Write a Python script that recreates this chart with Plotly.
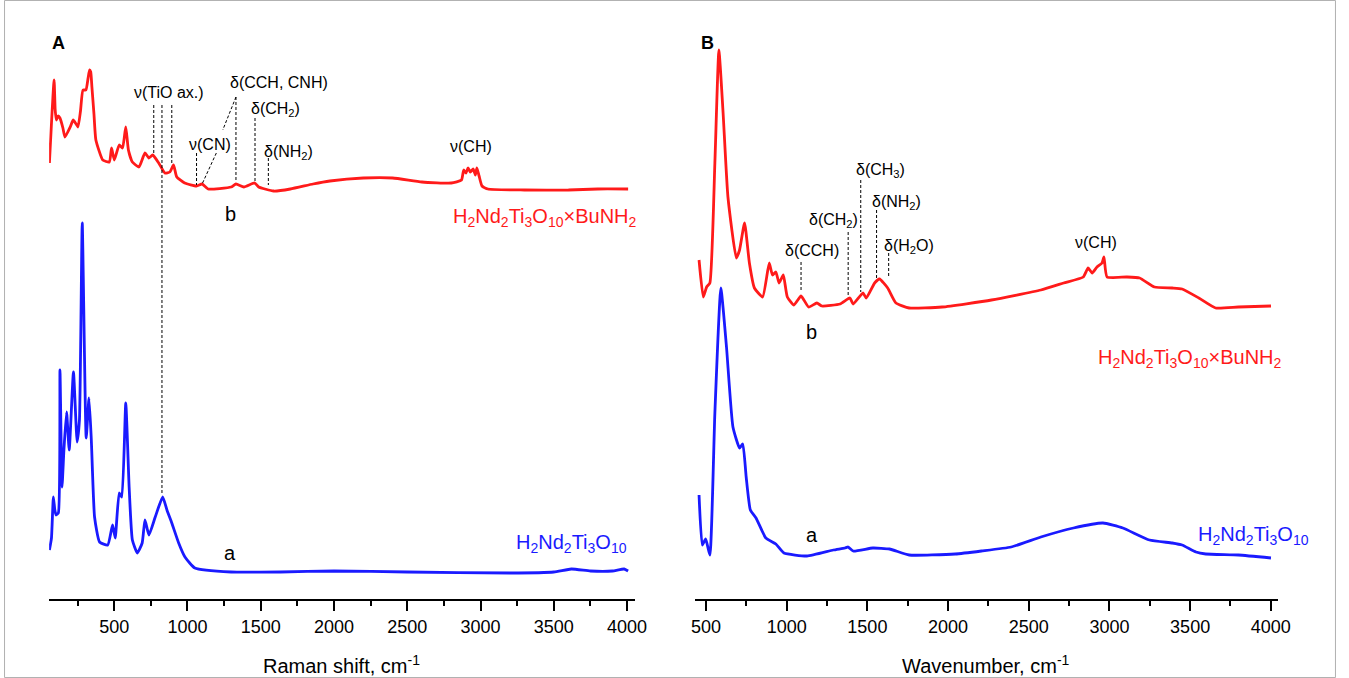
import plotly.graph_objects as go

W, H = 1349, 678

# ---------------- Panel A: Raman ----------------
ramanA_b_x = [58, 90, 97, 105, 118, 130, 150, 164, 200, 220, 240, 253, 270, 287, 307, 322, 332, 340, 348, 362, 375,
              422, 467, 482, 501, 534, 557, 579, 597, 624, 669, 710, 737, 763, 804, 846, 880, 905, 927, 981,
              1062, 1100, 1141, 1298, 1331, 1385, 1459, 1486, 1588, 1702, 1857, 1972, 2200, 2400, 2600,
              2800, 2870, 2885, 2900, 2915, 2930, 2950, 2965, 2975, 2990, 3010, 3050, 3300, 3600, 3800, 4007]
ramanA_b_y = [436, 519, 490, 479, 483, 481, 471, 462, 472, 479, 475, 472, 488, 509, 509, 521, 529, 527, 512, 485, 459,
              439, 437, 451, 439, 454, 451, 472, 449, 437, 432, 446, 441, 444, 436, 426, 427, 434, 422, 416,
              413, 415, 410, 412, 415, 412, 416, 412, 408, 410, 415, 418, 421, 421, 417,
              416, 419, 429, 426, 431, 427, 430, 424, 431, 423, 413, 410, 409, 409, 410, 410]

ramanA_a_x = [58, 72, 85, 95, 103, 119, 130, 144, 157, 175, 193, 222, 247, 263, 282, 309, 328, 344, 366, 400,
              456, 489, 507, 534, 552, 579, 602, 624, 658, 691, 710, 737, 780, 831, 860, 893, 940, 983, 1050,
              1298, 1635, 2000, 2500, 3200, 3500, 3620, 3750, 3900, 3980, 4007]
ramanA_a_y = [49, 61, 102, 89, 84, 86, 229, 112, 149, 187, 149, 227, 157, 179, 376, 161, 201, 159, 82, 57,
              54, 74, 61, 106, 102, 196, 112, 59, 46, 56, 79, 64, 82, 102, 89, 76, 56, 42, 31,
              27, 27, 28, 27, 26, 27, 30, 28, 28, 30, 28]

# ---------------- Panel B: IR ----------------
ir_b_x = [457, 483, 504, 524, 555, 580, 606, 636, 688, 708, 739, 769, 800, 851, 892, 912, 933, 953, 979, 1004,
          1045, 1089, 1136, 1187, 1218, 1331, 1392, 1412, 1473, 1493, 1545, 1575, 1626, 1677, 1759, 1963,
          2269, 2575, 2716, 2838, 2868, 2893, 2923, 2954, 2966, 2985, 3107, 3187, 3279, 3389, 3450, 3554,
          3658, 3799, 4001]
ir_b_y = [339, 302, 312, 316, 436, 549, 486, 402, 341, 349, 376, 336, 311, 302, 336, 324, 327, 316, 324, 302,
          294, 303, 292, 296, 293, 295, 301, 295, 306, 301, 316, 320, 311, 296, 291, 292,
          299, 309, 316, 322, 331, 326, 332, 336, 342, 322, 322, 321, 312, 311, 310, 301,
          291, 292, 293]

ir_a_x = [457, 477, 498, 524, 555, 592, 627, 667, 708, 728, 749, 775, 810, 871, 933, 983, 1126, 1289, 1361,
          1381, 1412, 1534, 1637, 1759, 2044, 2207, 2391, 2575, 2777, 2960, 3083, 3248, 3389, 3450, 3536,
          3597, 3799, 4001]
ir_a_y = [104, 54, 60, 44, 186, 311, 252, 172, 151, 155, 122, 89, 81, 61, 55, 46, 43, 49, 51,
          52, 48, 51, 50, 44, 45, 48, 52, 62, 71, 76, 71, 59, 56, 54, 47,
          45, 44, 41]

x_ticks = [500, 1000, 1500, 2000, 2500, 3000, 3500, 4000]

# band-assignment marker lines: wavenumber, top intensity, bottom intensity
ramanA_marks_x = [770, 826, 893, 1062, 1331, 1461, 1552]
ramanA_marks_top = [494, 494, 494, 446, 502, 481, 441]
ramanA_marks_bot = [444, 104, 434, 414, 417, 416, 414]
ir_marks_x = [1089, 1381, 1459, 1557, 1632]
ir_marks_top = [337, 367, 419, 389, 346]
ir_marks_bot = [309, 302, 307, 321, 321]

RED = "#ff1a1a"
BLUE = "#1a1aff"
FONT = "Liberation Sans, Arial, sans-serif"

fig = go.Figure()
for xs, ys, col, xa, ya in [(ramanA_b_x, ramanA_b_y, RED, "x", "y"), (ramanA_a_x, ramanA_a_y, BLUE, "x", "y"),
                            (ir_b_x, ir_b_y, RED, "x2", "y2"), (ir_a_x, ir_a_y, BLUE, "x2", "y2")]:
    fig.add_trace(go.Scatter(x=xs, y=ys, mode="lines",
                             line=dict(color=col, width=2.8, shape="spline", smoothing=0.45),
                             xaxis=xa, yaxis=ya, showlegend=False))

shapes = []
dash = dict(color="black", width=1, dash="3px,2px")
for xv, t, b in zip(ramanA_marks_x, ramanA_marks_top, ramanA_marks_bot):
    shapes.append(dict(type="line", xref="x", yref="y", x0=xv, x1=xv, y0=t, y1=b, line=dash))
# slanted connector from delta(CCH, CNH) label to the 1100 band (interrupted by nu(CN) label)
shapes.append(dict(type="line", xref="x", yref="y", x0=1331, y0=502, x1=1241, y1=469, line=dash))
shapes.append(dict(type="line", xref="x", yref="y", x0=1197, y0=446, x1=1100, y1=415, line=dash))
for xv, t, b in zip(ir_marks_x, ir_marks_top, ir_marks_bot):
    shapes.append(dict(type="line", xref="x2", yref="y2", x0=xv, x1=xv, y0=t, y1=b, line=dash))
# outer light frame
shapes.append(dict(type="rect", xref="paper", yref="paper", x0=0.0004, x1=0.9996, y0=0.0007, y1=0.9993,
                   line=dict(color="#b0b0b0", width=1)))


def P(x, y):
    return dict(xref="paper", yref="paper", x=x / W, y=1 - y / H)


ann = []


def txt(text, x, y, size=16, color="black", xanchor="center", bold=False):
    d = P(x, y)
    d.update(text=("<b>%s</b>" % text) if bold else text, showarrow=False, xanchor=xanchor, yanchor="middle",
             font=dict(family=FONT, size=size, color=color))
    ann.append(d)


txt("A", 55, 43, size=18, bold=True)
txt("B", 712, 43, size=18, bold=True)
# panel A labels
txt("ν(TiO ax.)", 167, 92)
txt("ν(CN)", 209, 145)
txt("δ(CCH, CNH)", 279, 82)
txt("δ(CH<sub>2</sub>)", 275, 109)
txt("δ(NH<sub>2</sub>)", 288, 152)
txt("ν(CH)", 473, 146)
txt("b", 229, 214, size=20)
txt("a", 229, 553, size=20)
txt("H<sub>2</sub>Nd<sub>2</sub>Ti<sub>3</sub>O<sub>10</sub>×BuNH<sub>2</sub>", 643, 217, size=20, color=RED,
    xanchor="right")
txt("H<sub>2</sub>Nd<sub>2</sub>Ti<sub>3</sub>O<sub>10</sub>", 633, 543, size=20, color=BLUE, xanchor="right")
# panel B labels
txt("δ(CCH)", 818, 250)
txt("δ(CH<sub>2</sub>)", 840, 220)
txt("δ(CH<sub>3</sub>)", 888, 170)
txt("δ(NH<sub>2</sub>)", 904, 202)
txt("δ(H<sub>2</sub>O)", 917, 247)
txt("ν(CH)", 1106, 242)
txt("b", 818, 332, size=20)
txt("a", 818, 535, size=20)
txt("H<sub>2</sub>Nd<sub>2</sub>Ti<sub>3</sub>O<sub>10</sub>×BuNH<sub>2</sub>", 1296, 358, size=20, color=RED,
    xanchor="right")
txt("H<sub>2</sub>Nd<sub>2</sub>Ti<sub>3</sub>O<sub>10</sub>", 1324, 535, size=20, color=BLUE, xanchor="right")
# axis titles
txt("Raman shift, cm<sup>-1</sup>", 342, 664, size=20)
txt("Wavenumber, cm<sup>-1</sup>", 995, 664, size=20)

axis_common = dict(showline=True, linecolor="black", linewidth=2, ticks="outside", ticklen=10, tickwidth=2,
                   tickcolor="black", showgrid=False, zeroline=False, tickvals=x_ticks,
                   tickfont=dict(family=FONT, size=18, color="black"),
                   minor=dict(dtick=250, tick0=0, ticks="outside", ticklen=5, tickwidth=2, tickcolor="black",
                              showgrid=False))

fig.update_layout(
    width=W, height=H, margin=dict(l=0, r=0, t=0, b=0),
    paper_bgcolor="white", plot_bgcolor="white",
    xaxis=dict(domain=[45.7 / W, 639.5 / W], range=[56, 4057], anchor="y", **axis_common),
    xaxis2=dict(domain=[700 / W, 1290.5 / W], range=[433, 4046], anchor="y2", **axis_common),
    yaxis=dict(domain=[(H - 599) / H, 1], range=[0, 599], visible=False),
    yaxis2=dict(domain=[(H - 599) / H, 1], range=[0, 599], visible=False),
    shapes=shapes, annotations=ann,
    font=dict(family=FONT),
)

fig.write_html("out.html")
